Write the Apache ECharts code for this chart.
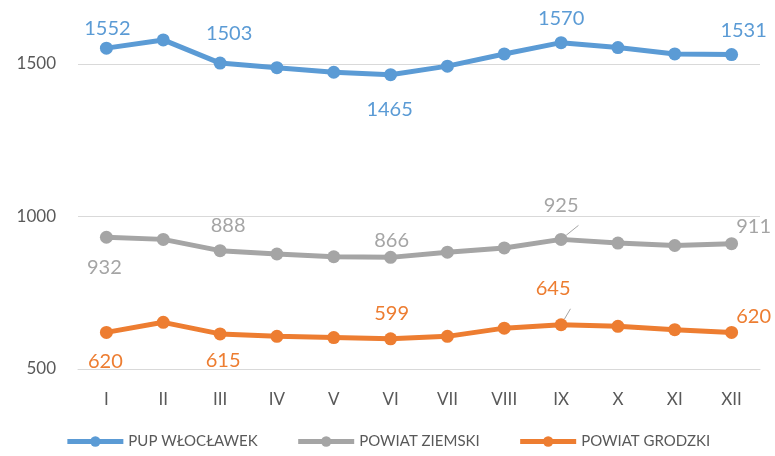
<!DOCTYPE html>
<html>
<head>
    <meta charset="utf-8">
    <title>PUP Włocławek</title>
    <script src="https://cdn.jsdelivr.net/npm/echarts@6/dist/echarts.min.js"></script>
    <style>
        html, body { margin: 0; padding: 0; background: #fff; }
        #main { width: 775px; height: 456px; }
    </style>
</head>
<body>
    <div id="main"></div>
    <script type="text/javascript">
        // dane
        var months = ['I', 'II', 'III', 'IV', 'V', 'VI', 'VII', 'VIII', 'IX', 'X', 'XI', 'XII'];
        var pupWloclawek = [1552, 1579, 1503, 1488, 1473, 1465, 1493, 1533, 1570, 1554, 1533, 1531];
        var powiatZiemski = [932, 925, 888, 877, 868, 866, 883, 897, 925, 913, 905, 911];
        var powiatGrodzki = [620, 653, 615, 607, 603, 599, 607, 634, 645, 640, 629, 620];
        var yTicks = [500, 1000, 1500];

        // gdzie stoją etykiety (indeks -> przesunięcie względem punktu)
        var pupLabels = { 0: [1, -20], 2: [9, -30], 5: [-1, 35], 8: [0, -24], 11: [12, -24] };
        var ziemLabels = { 0: [-2, 30], 2: [8, -25], 5: [1, -17], 8: [0, -34], 11: [22, -17] };
        var grodLabels = { 0: [-1, 29], 2: [3, 27], 5: [1, -25], 8: [-8, -36], 11: [22, -16] };

        function buildData(values, labels, color, guideIdx) {
            return values.map(function (v, i) {
                var item = { value: v };
                if (labels[i]) {
                    item.label = {
                        show: true,
                        position: 'inside',
                        offset: labels[i],
                        color: color,
                        fontSize: 20,
                        fontFamily: 'Lato'
                    };
                    if (i === guideIdx) {
                        item.labelLine = { show: true, lineStyle: { color: '#a5a5a5', width: 1 } };
                    }
                }
                return item;
            });
        }

        function lineSeries(name, values, labels, color, guideIdx) {
            return {
                name: name,
                type: 'line',
                data: buildData(values, labels, color, guideIdx),
                symbol: 'circle',
                symbolSize: 13,
                clip: false,
                lineStyle: { color: color, width: 5 },
                itemStyle: { color: color },
                label: { show: false },
                emphasis: { disabled: true }
            };
        }

        var chart = echarts.init(document.getElementById('main'));
        chart.setOption({
            animation: false,
            color: ['#5b9bd5', '#a5a5a5', '#ed7d31'],
            grid: { left: 78, right: 15, top: 64, bottom: 87 },
            legend: {
                bottom: 2,
                left: 'center',
                itemWidth: 56,
                itemHeight: 13,
                itemGap: 38,
                lineStyle: { width: 5 },
                textStyle: { color: '#595959', fontSize: 15, fontFamily: 'Lato' },
                data: ['PUP WŁOCŁAWEK', 'POWIAT ZIEMSKI', 'POWIAT GRODZKI']
            },
            xAxis: {
                type: 'category',
                data: months,
                boundaryGap: true,
                axisLine: { lineStyle: { color: '#d9d9d9', width: 1 } },
                axisTick: { show: false },
                axisLabel: { color: '#595959', fontSize: 17, fontFamily: 'Lato', margin: 22 }
            },
            yAxis: {
                type: 'value',
                min: yTicks[0],
                max: yTicks[yTicks.length - 1],
                interval: 500,
                axisLine: { show: false },
                axisTick: { show: false },
                splitLine: { lineStyle: { color: '#d9d9d9', width: 1 } },
                axisLabel: {
                    color: '#595959', fontSize: 17, fontFamily: 'Lato', margin: 22,
                    formatter: function (v) { return String(v); }
                }
            },
            series: [
                lineSeries('PUP WŁOCŁAWEK', pupWloclawek, pupLabels, '#5b9bd5', -1),
                lineSeries('POWIAT ZIEMSKI', powiatZiemski, ziemLabels, '#a5a5a5', 8),
                lineSeries('POWIAT GRODZKI', powiatGrodzki, grodLabels, '#ed7d31', 8)
            ]
        });
    </script>
</body>
</html>
